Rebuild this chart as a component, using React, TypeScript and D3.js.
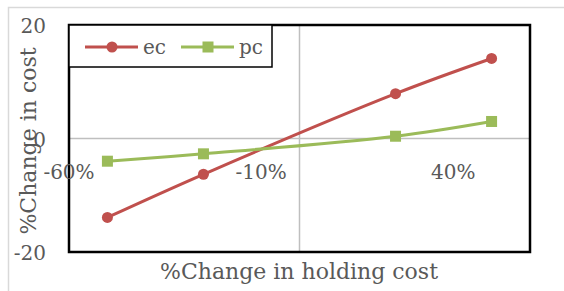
import { useEffect, useRef } from "react";
import * as d3 from "d3";

const xValues = [-50, -25, 25, 50];
const ecValues = [-13.9, -6.3, 7.9, 14.1];
const pcValues = [-4.0, -2.7, 0.4, 3.0];
const xTicks = [-60, -10, 40];
const yTicks = [-20, 0, 20];

const App = () => {
  const svgRef = useRef<SVGSVGElement>(null);

  useEffect(() => {
    if (!svgRef.current) return;
    d3.select(svgRef.current).selectAll("*").remove();

    const width = 564;
    const height = 291;
    const plot = { left: 69, top: 25, right: 530, bottom: 252 };
    const font = "'DejaVu Serif', serif";
    const textColor = "#595959";

    const svg = d3.select(svgRef.current)
      .attr("width", width)
      .attr("height", height)
      .style("font-family", font);

    // Outer chart border
    svg.append("rect")
      .attr("x", 8.5)
      .attr("y", 7.5)
      .attr("width", width)
      .attr("height", height)
      .attr("fill", "white")
      .attr("stroke", "#d9d9d9")
      .attr("stroke-width", 1.5);

    const x = d3.scaleLinear().domain([-60, 60]).range([plot.left, plot.right]);
    const y = d3.scaleLinear().domain([-20, 20]).range([plot.bottom, plot.top]);

    // Axis lines crossing at zero
    svg.append("line")
      .attr("x1", plot.left).attr("x2", plot.right)
      .attr("y1", y(0)).attr("y2", y(0))
      .attr("stroke", "#bfbfbf").attr("stroke-width", 1.5);
    svg.append("line")
      .attr("x1", x(0)).attr("x2", x(0))
      .attr("y1", plot.top).attr("y2", plot.bottom)
      .attr("stroke", "#bfbfbf").attr("stroke-width", 1.5);

    // Plot area border
    svg.append("rect")
      .attr("x", plot.left)
      .attr("y", plot.top)
      .attr("width", plot.right - plot.left)
      .attr("height", plot.bottom - plot.top)
      .attr("fill", "none")
      .attr("stroke", "black")
      .attr("stroke-width", 2.5);

    // Tick labels
    svg.selectAll(".xtick")
      .data(xTicks)
      .join("text")
      .attr("class", "xtick")
      .attr("x", d => x(d))
      .attr("y", y(0) + 40)
      .attr("text-anchor", "middle")
      .style("font-size", "20px")
      .style("fill", textColor)
      .text(d => `${d}%`);

    svg.selectAll(".ytick")
      .data(yTicks)
      .join("text")
      .attr("class", "ytick")
      .attr("x", 46)
      .attr("y", d => y(d) + 8)
      .attr("text-anchor", "end")
      .style("font-size", "20px")
      .style("fill", textColor)
      .text(d => d);

    // Series
    const series = [
      { name: "ec", values: ecValues, color: "#C0504D", marker: "circle" },
      { name: "pc", values: pcValues, color: "#9BBB59", marker: "square" },
    ];

    const line = d3.line<number>()
      .x((_, i) => x(xValues[i]))
      .y(d => y(d))
      .curve(d3.curveCatmullRom.alpha(0.5));

    series.forEach(s => {
      svg.append("path")
        .datum(s.values)
        .attr("d", line)
        .attr("fill", "none")
        .attr("stroke", s.color)
        .attr("stroke-width", 3);

      if (s.marker === "circle") {
        svg.selectAll(`.m-${s.name}`)
          .data(s.values)
          .join("circle")
          .attr("cx", (_, i) => x(xValues[i]))
          .attr("cy", d => y(d))
          .attr("r", 5.5)
          .attr("fill", s.color);
      } else {
        svg.selectAll(`.m-${s.name}`)
          .data(s.values)
          .join("rect")
          .attr("x", (_, i) => x(xValues[i]) - 5.5)
          .attr("y", d => y(d) - 5.5)
          .attr("width", 11)
          .attr("height", 11)
          .attr("fill", s.color);
      }
    });

    // Legend
    const legend = svg.append("g");
    legend.append("rect")
      .attr("x", plot.left)
      .attr("y", plot.top)
      .attr("width", 203)
      .attr("height", 42)
      .attr("fill", "white")
      .attr("stroke", "black")
      .attr("stroke-width", 1.5);

    const legendX = [85, 181];
    series.forEach((s, i) => {
      const lx = legendX[i];
      const ly = 47;
      legend.append("line")
        .attr("x1", lx).attr("x2", lx + 53)
        .attr("y1", ly).attr("y2", ly)
        .attr("stroke", s.color).attr("stroke-width", 3);
      if (s.marker === "circle") {
        legend.append("circle").attr("cx", lx + 27).attr("cy", ly).attr("r", 5.5).attr("fill", s.color);
      } else {
        legend.append("rect").attr("x", lx + 21.5).attr("y", ly - 5.5).attr("width", 11).attr("height", 11).attr("fill", s.color);
      }
      legend.append("text")
        .attr("x", lx + 58)
        .attr("y", ly + 7)
        .style("font-size", "20px")
        .style("fill", textColor)
        .text(s.name);
    });

    // Axis titles
    svg.append("text")
      .attr("x", 299)
      .attr("y", 279)
      .attr("text-anchor", "middle")
      .style("font-size", "22px")
      .style("fill", textColor)
      .text("%Change in holding cost");

    svg.append("text")
      .attr("transform", "rotate(-90)")
      .attr("x", -141)
      .attr("y", 36)
      .attr("text-anchor", "middle")
      .style("font-size", "22px")
      .style("fill", textColor)
      .text("%Change in cost");
  }, []);

  return (
    <div style={{ position: "absolute", left: 0, top: 0 }}>
      <svg ref={svgRef}></svg>
    </div>
  );
};

export default App;
